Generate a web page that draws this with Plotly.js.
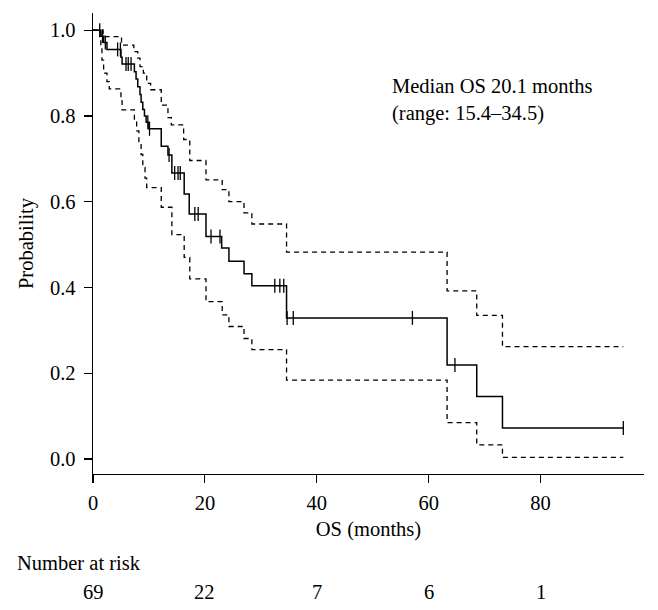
<!DOCTYPE html>
<html>
<head>
<meta charset="utf-8">
<script src="https://cdn.plot.ly/plotly-3.0.1.min.js"></script>
<style>html,body{margin:0;padding:0;background:#fff;}#chart{width:658px;height:610px;}</style>
</head>
<body>
<div id="chart"></div>
<script>
// Kaplan-Meier overall survival (step points: time of drop, new value)
var mainT = [0,1.4,1.9,2.5,5.0,5.2,7.4,7.7,8.0,8.4,8.6,8.9,9.2,9.5,10.0,12.2,13.4,14.1,16.3,17.2,20.2,23.0,24.3,27.0,28.4,34.6,63.3,68.6,73.2,94.8];
var mainS = [1.0,0.986,0.971,0.955,0.937,0.921,0.903,0.886,0.868,0.850,0.832,0.815,0.800,0.785,0.770,0.729,0.709,0.667,0.618,0.571,0.519,0.492,0.461,0.432,0.404,0.329,0.219,0.146,0.072,0.072];

// Upper 95% confidence band
var upT = [0,1.8,5.1,7.3,8.0,8.4,9.0,9.6,10.3,12.2,13.4,14.0,16.2,17.3,20.2,23.1,24.3,27.0,28.4,34.6,63.3,68.6,73.2,94.8];
var upS = [1.0,0.985,0.965,0.950,0.935,0.915,0.900,0.876,0.861,0.825,0.796,0.779,0.745,0.696,0.651,0.628,0.600,0.574,0.548,0.4825,0.392,0.335,0.262,0.262];

// Lower 95% confidence band
var loT = [0,1.4,1.6,1.9,2.5,2.9,5.0,5.2,7.4,7.8,8.2,8.6,8.9,9.3,9.6,12.2,14.1,16.3,17.3,20.2,23.1,24.3,27.0,28.4,34.6,63.3,68.6,73.2,94.8];
var loS = [1.0,0.958,0.93,0.90,0.88,0.863,0.835,0.814,0.79,0.765,0.74,0.71,0.68,0.655,0.633,0.587,0.523,0.470,0.420,0.367,0.336,0.309,0.281,0.255,0.184,0.085,0.033,0.004,0.004];

// Censored observations
var censT = [1.2,1.7,2.2,4.4,4.9,5.9,6.3,6.8,9.8,10.1,13.6,14.6,15.2,15.6,18.2,18.8,21.1,22.7,32.5,33.4,34.1,34.7,35.8,57.1,64.7,94.8];
var censS = [1.0,0.986,0.971,0.955,0.955,0.921,0.921,0.921,0.785,0.770,0.709,0.667,0.667,0.667,0.571,0.571,0.519,0.519,0.404,0.404,0.404,0.329,0.329,0.329,0.219,0.072];

// Axes and number at risk
var xTicks = [0,20,40,60,80];
var yTicks = [0,0.2,0.4,0.6,0.8,1.0];
var riskTimes = [0,20,40,60,80];
var riskCounts = [69,22,7,6,1];

var FONT = "'Liberation Serif', 'DejaVu Serif', serif";
var FS = 20.5;

var traces = [
  {x: upT, y: upS, mode: 'lines', line: {shape: 'hv', color: '#000', width: 1.3, dash: '5px,4px'}, hoverinfo: 'skip'},
  {x: loT, y: loS, mode: 'lines', line: {shape: 'hv', color: '#000', width: 1.3, dash: '5px,4px'}, hoverinfo: 'skip'},
  {x: mainT, y: mainS, mode: 'lines', line: {shape: 'hv', color: '#000', width: 1.5}, hoverinfo: 'skip'},
  {x: censT, y: censS, mode: 'markers', marker: {symbol: 'line-ns', size: 10, color: '#000', line: {color: '#000', width: 1.3}}, hoverinfo: 'skip'}
];

var annotations = [
  {xref: 'x', yref: 'y', x: 53.1, y: 0.838, xanchor: 'left', yanchor: 'middle', align: 'left', showarrow: false,
   text: 'Median OS 20.1 months<br>(range: 15.4\u201334.5)', font: {family: FONT, size: FS, color: '#000'}},
  {xref: 'paper', yref: 'paper', x: -0.142, y: -0.193, xanchor: 'left', yanchor: 'middle', showarrow: false,
   text: 'Number at risk', font: {family: FONT, size: FS, color: '#000'}}
];
for (var i = 0; i < riskTimes.length; i++) {
  annotations.push({xref: 'x', yref: 'paper', x: riskTimes[i], y: -0.256, xanchor: 'center', yanchor: 'middle',
    showarrow: false, text: String(riskCounts[i]), font: {family: FONT, size: FS, color: '#000'}});
}

var layout = {
  width: 658, height: 610,
  margin: {l: 93, r: 14, t: 13, b: 136},
  paper_bgcolor: '#fff', plot_bgcolor: '#fff',
  showlegend: false,
  font: {family: FONT, size: FS, color: '#000'},
  xaxis: {
    range: [0, 98.5], tickvals: xTicks, ticktext: xTicks.map(String),
    showline: true, linecolor: '#000', linewidth: 1.3, mirror: false,
    ticks: 'outside', ticklen: 8, tickwidth: 1.2, tickcolor: '#000',
    ticklabelstandoff: 2,
    showgrid: false, zeroline: false,
    tickfont: {family: FONT, size: FS, color: '#000'},
    title: {text: 'OS (months)', font: {family: FONT, size: FS, color: '#000'}, standoff: 8}
  },
  yaxis: {
    range: [-0.035, 1.04], tickvals: yTicks, ticktext: yTicks.map(function(v){return v.toFixed(1);}),
    showline: true, linecolor: '#000', linewidth: 1.3, mirror: false,
    ticks: 'outside', ticklen: 8, tickwidth: 1.2, tickcolor: '#000',
    ticklabelstandoff: 4,
    showgrid: false, zeroline: false,
    tickfont: {family: FONT, size: FS, color: '#000'},
    title: {text: 'Probability', font: {family: FONT, size: FS, color: '#000'}, standoff: 10}
  },
  annotations: annotations
};

Plotly.newPlot('chart', traces, layout, {staticPlot: true, displayModeBar: false});
</script>
</body>
</html>
